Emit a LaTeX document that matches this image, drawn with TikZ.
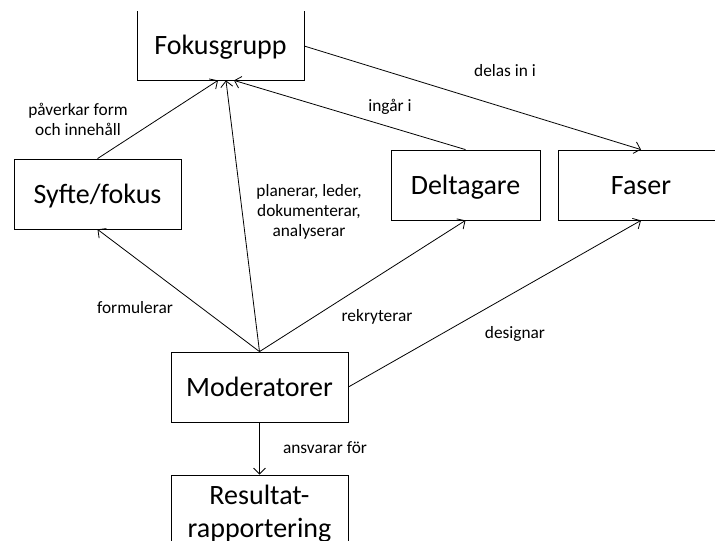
\documentclass[tikz,border=0pt]{standalone}
\usepackage{fontspec}
\setmainfont{Carlito}
\usetikzlibrary{arrows.meta, positioning}

\begin{document}
\begin{tikzpicture}[x=0.75pt, y=-0.75pt, line width=0.6pt,
    box/.style={draw, inner sep=0pt, align=center, minimum height=52.5pt, font=\fontsize{21}{25}\selectfont},
    oneline/.style={text height=18pt, text depth=4.5pt},
    lbl/.style={inner sep=0pt, align=center, font=\fontsize{13}{15}\selectfont},
    >={Straight Barb[length=4.5pt, width=9pt]}]
    \useasboundingbox (0,0) rectangle (715,540);
    \clip (0,11) rectangle (715,540);

    % Boxes
    \node[box, oneline, minimum width=125.25pt] (fokus) at (220.5,45) {Fokusgrupp};
    \node[box, oneline, minimum width=125.25pt] (syfte) at (97.5,194) {Syfte/fokus};
    \node[box, oneline, minimum width=111.75pt] (delt) at (465.5,185) {Deltagare};
    \node[box, oneline, minimum width=124.5pt] (faser) at (641,185) {Faser};
    \node[box, oneline, minimum width=132.75pt] (mod) at (259.5,387) {Moderatorer};
    \node[box, minimum width=132.75pt, minimum height=58.5pt] (res) at (259.5,514) {Resultat-\\rapportering};

    % Labels
    \node[lbl] (lpaverkar) at (78,119) {påverkar form\\och innehåll};
    \node[lbl] (ldelas) at (505,71) {delas in i};
    \node[lbl] (lingar) at (390,107) {ingår i};
    \node[lbl] (lplanerar) at (309,212) {planerar, leder,\\dokumenterar,\\analyserar};
    \node[lbl] (lformulerar) at (135,308) {formulerar};
    \node[lbl] (lrekryterar) at (377,317) {rekryterar};
    \node[lbl] (ldesignar) at (515,334) {designar};
    \node[lbl] (lansvarar) at (325,448) {ansvarar för};

    % Arrows
    \draw[->] (syfte.north) -- ([xshift=-1.9pt]fokus.south);
    \draw[->] (mod.north) -- ([xshift=4.1pt]fokus.south);
    \draw[->] (delt.north) -- ([xshift=10.1pt]fokus.south);
    \draw[->] ([yshift=-0.8pt]fokus.east) -- (faser.north);
    \draw[->] (mod.north) -- (syfte.south);
    \draw[->] (mod.north) -- (delt.south);
    \draw[->] (mod.east) -- (faser.south);
    \draw[->] (mod.south) -- (res.north);
\end{tikzpicture}
\end{document}
